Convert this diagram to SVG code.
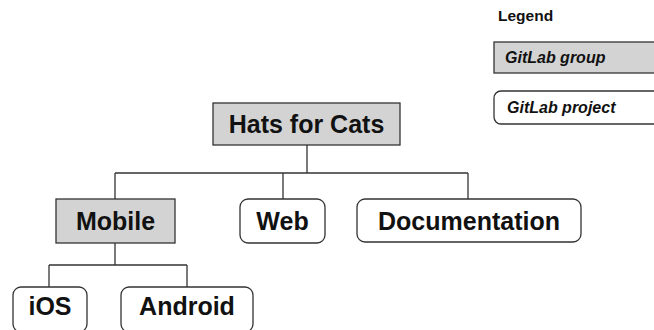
<svg xmlns="http://www.w3.org/2000/svg" width="654" height="330" viewBox="0 0 654 330">
<style>
.grp{fill:#d3d3d3;stroke:#333;stroke-width:1.3}
.prj{fill:#fff;stroke:#333;stroke-width:1.3}
.lbl{font-family:"Liberation Sans",Arial,sans-serif;font-weight:bold;font-size:25px;fill:#111;text-anchor:middle}
.leg{font-family:"Liberation Sans",Arial,sans-serif;font-weight:bold;font-style:italic;font-size:16px;fill:#111}
.conn line{stroke:#333;stroke-width:1.3}
</style>
<rect width="654" height="330" fill="#fff"/>
<g class="conn">
<line x1="307" y1="145" x2="307" y2="173"/>
<line x1="115" y1="173" x2="468" y2="173"/>
<line x1="115" y1="173" x2="115" y2="199"/>
<line x1="283" y1="173" x2="283" y2="199"/>
<line x1="468" y1="173" x2="468" y2="199"/>
<line x1="115" y1="243" x2="115" y2="265"/>
<line x1="49" y1="265" x2="187" y2="265"/>
<line x1="49" y1="265" x2="49" y2="287"/>
<line x1="187" y1="265" x2="187" y2="287"/>
</g>
<g id="legend">
<text x="498" y="21" style="font-family:'Liberation Sans',Arial,sans-serif;font-weight:bold;font-size:15.5px;fill:#111">Legend</text>
<rect class="grp" x="494" y="42" width="180" height="31"/>
<text class="leg" x="505" y="63">GitLab group</text>
<rect class="prj" x="494" y="91" width="180" height="33" rx="7"/>
<text class="leg" x="507" y="113">GitLab project</text>
</g>
<g id="hats"><rect class="grp" x="213" y="103" width="187" height="42"/><text class="lbl" x="306.5" y="133">Hats for Cats</text></g>
<g id="mobile"><rect class="grp" x="56" y="199" width="119" height="44"/><text class="lbl" x="115.5" y="230">Mobile</text></g>
<g id="web"><rect class="prj" x="240" y="199" width="85" height="44" rx="8"/><text class="lbl" x="282.5" y="230">Web</text></g>
<g id="documentation"><rect class="prj" x="357" y="199" width="224" height="43" rx="8"/><text class="lbl" x="469" y="230">Documentation</text></g>
<g id="ios"><rect class="prj" x="13" y="287" width="74" height="45" rx="8"/><text class="lbl" x="50" y="315">iOS</text></g>
<g id="android"><rect class="prj" x="121" y="287" width="132" height="45" rx="8"/><text class="lbl" x="187" y="315">Android</text></g>
</svg>
